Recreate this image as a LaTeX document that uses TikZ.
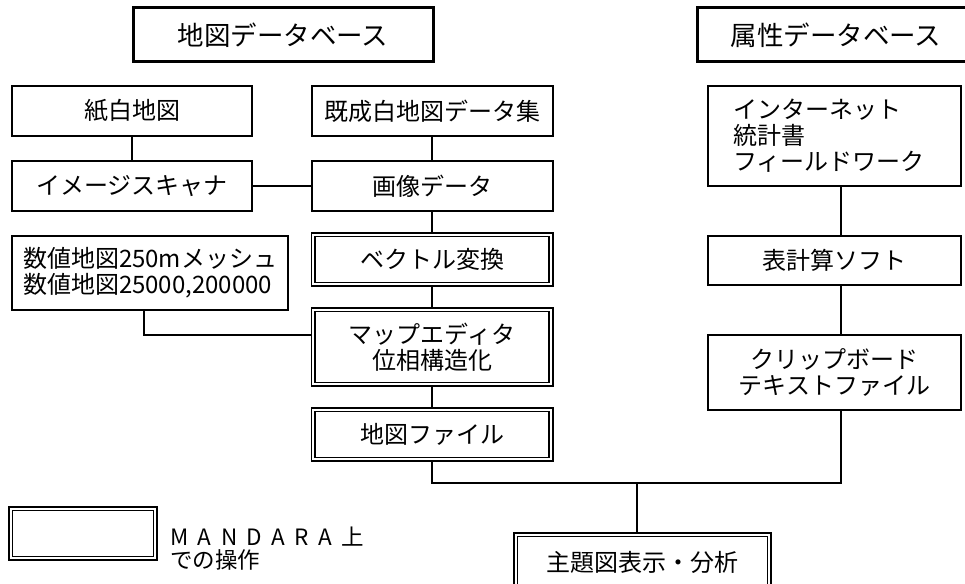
\documentclass[tikz,border=0pt]{standalone}
\usepackage{fontspec}
\setmainfont{Noto Sans CJK JP}
\usetikzlibrary{calc}
\tikzset{
  bx/.style={draw, line width=2pt, minimum height=50, inner sep=0pt, font=\fontsize{24}{26}\selectfont},
  hd/.style={draw, line width=3pt, minimum height=54, inner sep=0pt, font=\fontsize{26.5}{28}\selectfont},
  db/.style={draw, line width=1.6pt, double, double distance=2pt, minimum width=237.8, minimum height=49.8, inner sep=0pt, align=center, font=\fontsize{24}{26}\selectfont},
  cn/.style={line width=2pt, line join=miter},
  lg/.style={inner sep=0pt, align=left, font=\fontsize{22.5}{23.5}\selectfont}
}
\begin{document}
\begin{tikzpicture}[x=1pt,y=-1pt]
\useasboundingbox (0,0) rectangle (965,583);
\clip (0,0) rectangle (965,583);
% headers
\node[hd, minimum width=300] (h1) at (283,35) {地図データベース};
\node[hd, minimum width=278] (h2) at (836,35) {属性データベース};
% left part
\node[bx, minimum width=240] (paper) at (132,111) {紙白地図};
\node[bx, minimum width=241] (exist) at (432,111) {既成白地図データ集};
\node[bx, minimum width=240] (scan) at (132,186) {イメージスキャナ};
\node[bx, minimum width=241] (img) at (432,186) {画像データ};
\node[bx, text width=254, inner xsep=11pt, align=left, minimum height=74] (num) at (150,273) {数値地図250mメッシュ\\数値地図25000,200000};
\node[db] (vec) at (432,259.5) {ベクトル変換};
\node[db, minimum height=74.8] (edit) at (432,347) {マップエディタ\\位相構造化};
\node[db] (file) at (432,434.5) {地図ファイル};
\node[db, minimum width=253.8, minimum height=54.8] (theme) at (642.5,562) {主題図表示・分析};
% right part
\node[bx, text width=203, inner xsep=25pt, align=left, minimum height=100] (attr) at (834.5,136) {インターネット\\統計書\\フィールドワーク};
\node[bx, minimum width=253, minimum height=49] (sheet) at (834.5,260.5) {表計算ソフト};
\node[bx, minimum width=253, minimum height=75, align=center] (cb) at (834.5,372.5) {クリップボード\\テキストファイル};
% legend
\node[db, minimum width=144.8] (leg) at (83,533.5) {};
\node[lg, anchor=west] (legt) at (170,548.5) {{\addfontfeature{LetterSpace=42}MANDARA上}\\での操作};
% helper coordinates
\coordinate (k) at (144,335);
\coordinate (j) at (637,483);
\coordinate (rc) at (841,0);
% connectors
\draw[cn] (paper) -- (scan);
\draw[cn] (exist) -- (img);
\draw[cn] (scan) -- (img);
\draw[cn] (img.south) -- (vec.north);
\draw[cn] (vec.south) -- (edit.north);
\draw[cn] (edit.south) -- (file.north);
\draw[cn] (num.south -| k) -- (k) -- (k -| edit.west);
\draw[cn] (attr.south -| rc) -- (sheet.north -| rc);
\draw[cn] (sheet.south -| rc) -- (cb.north -| rc);
\draw[cn] (file.south) -- (file.south |- j) -- (j -| rc) -- (cb.south -| rc);
\draw[cn] (j) -- (j |- theme.north);
\end{tikzpicture}
\end{document}
